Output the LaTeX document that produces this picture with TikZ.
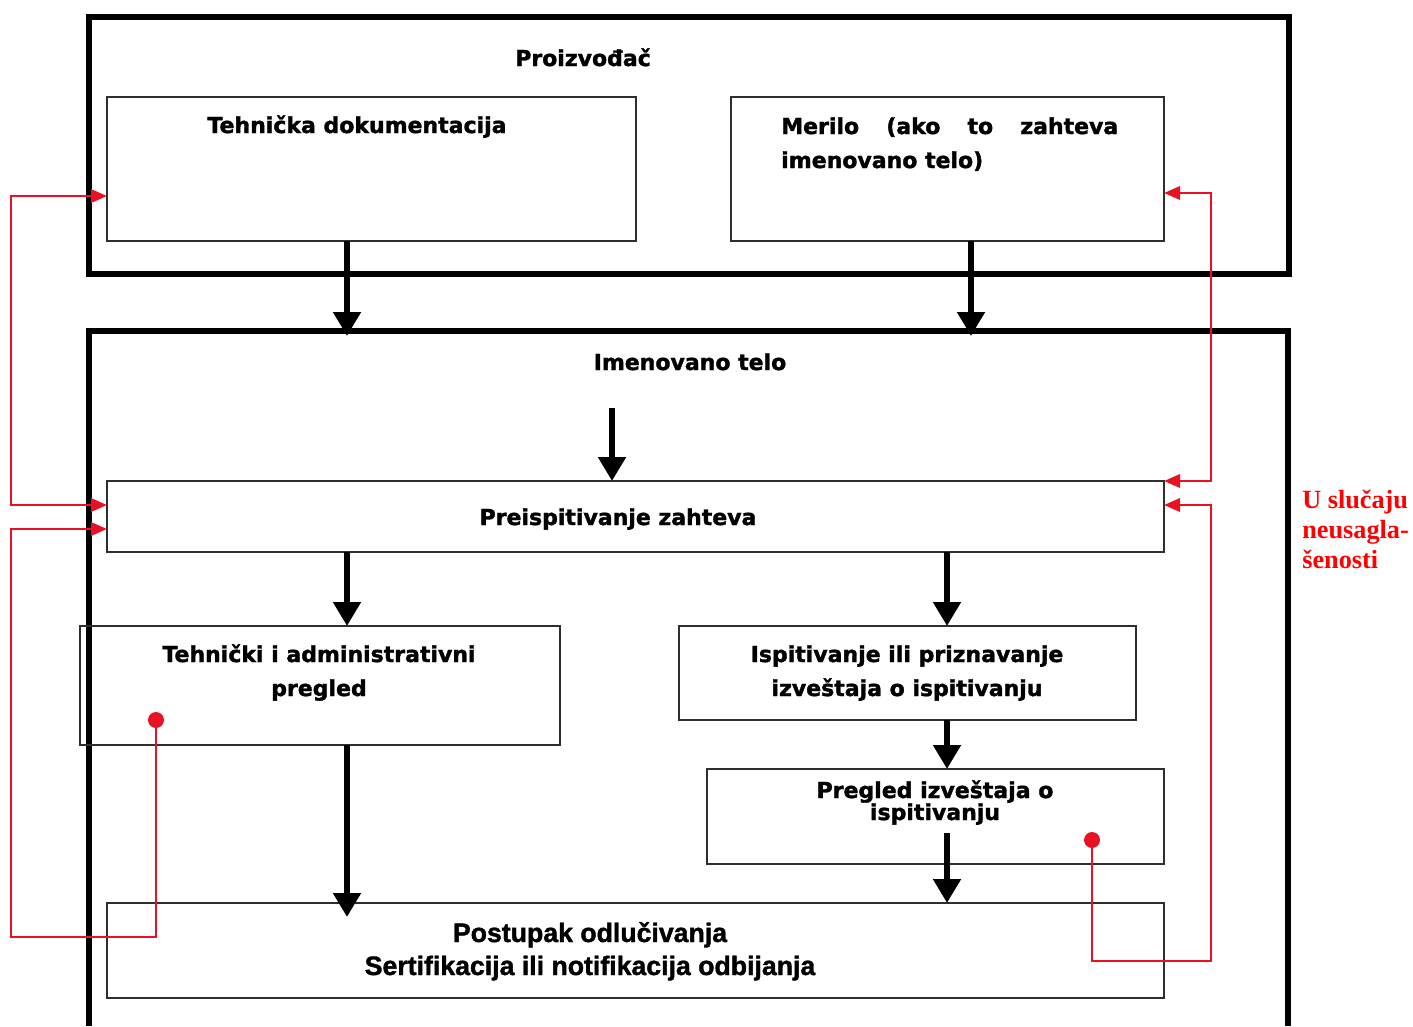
\documentclass[tikz,border=0pt]{standalone}
\usepackage{fontspec}
\setmainfont{DejaVu Sans}
\newfontfamily\hv{DejaVu Sans Bold}[FakeBold=1.6]
\newfontfamily\lsb{Liberation Sans Bold}[FakeBold=1.4]
\newfontfamily\lserif{Liberation Serif}
\usetikzlibrary{arrows.meta,calc}
\definecolor{redc}{RGB}{232,18,36}
\definecolor{redt}{RGB}{255,0,0}
\begin{document}
\begin{tikzpicture}[x=0.75pt,y=-0.75pt,
  frame/.style={draw=black, line width=4.5pt},
  box/.style={draw=black!82, line width=2.1pt, rectangle, inner sep=0pt, outer sep=0pt},
  lbl/.style={font=\hv\fontsize{16.5}{25.5}\selectfont, inner sep=0pt, anchor=base, align=center},
  flow/.style={draw=black, line width=5.2pt, -{Triangle[width=20pt,length=18pt]}},
  fb/.style={draw=redc, line width=1.8pt},
  fbarrow/.style={fb, -{Triangle[width=10pt,length=12pt]}},
  fbboth/.style={fb, {Triangle[width=10pt,length=12pt]}-{Triangle[width=10pt,length=12pt]}},
  rdot/.style={circle, fill=redc, inner sep=0pt, minimum size=12pt}]
\useasboundingbox (0,0) rectangle (1413,1026);
\fill[white] (0,0) rectangle (1413,1026);

% frames
\node[frame, rectangle, inner sep=0pt, outer sep=0pt, minimum width=900pt, minimum height=192.75pt] (prod) at (689,145.5) {};
\draw[frame] (89,1026) |- (1288,331) -- (1288,1026);

% boxes
\node[box, minimum width=396.75pt, minimum height=108pt] (td) at (371.5,169) {};
\node[box, minimum width=324.75pt, minimum height=108pt] (me) at (947.5,169) {};
\node[box, minimum width=792.75pt, minimum height=53.25pt] (pz) at (635.5,516.5) {};
\node[box, minimum width=360pt, minimum height=89.25pt] (ta) at (320,685.5) {};
\node[box, minimum width=342.75pt, minimum height=70.5pt] (is) at (907.5,673) {};
\node[box, minimum width=342.75pt, minimum height=71.25pt] (pr) at (935.5,816.5) {};
\node[box, minimum width=792.75pt, minimum height=71.25pt] (po) at (635.5,950.5) {};

% labels (base anchor = baseline of the last line)
\node[lbl] (tprod) at (583,66) {Proizvođač};
\node[lbl] (ttd) at (357,133) {Tehnička dokumentacija};
\node[lbl, anchor=base west, align=left] (tme) at (781,168) {\makebox[252.75pt][s]{Merilo (ako to zahteva}\\imenovano telo)};
\node[lbl] (timt) at (690,370) {Imenovano telo};
\node[lbl] (tpz) at (618,525) {Preispitivanje zahteva};
\node[lbl] (tta) at (319,696) {Tehnički i administrativni\\pregled};
\node[lbl] (tis) at (907,696) {Ispitivanje ili priznavanje\\izveštaja o ispitivanju};
\node[lbl, font=\hv\fontsize{16.5}{16.5}\selectfont] (tpr) at (935,820) {Pregled izveštaja o\\ispitivanju};
\node[lbl, font=\lsb\fontsize{20}{24.75}\selectfont] (tpo) at (590,975) {Postupak odlučivanja\\Sertifikacija ili notifikacija odbijanja};
\node[lbl, anchor=base west, align=left, text=redt, font=\lserif\fontsize{19.7}{22.5}\selectfont\bfseries] (tred) at (1302,568) {U slučaju\\neusagla-\\šenosti};

% helper coordinates
\coordinate (ib1) at (347,336);
\coordinate (ib2) at (971,336);
\coordinate (it) at (612,408);
\coordinate (xl) at (347,0);
\coordinate (xr) at (947,0);
\coordinate (prs) at (947,833);
\coordinate (pol) at (347,917);

% main flow arrows
\draw[flow] (ib1 |- td.south) -- (ib1);
\draw[flow] (ib2 |- me.south) -- (ib2);
\draw[flow] (it) -- (it |- pz.north);
\draw[flow] (xl |- pz.south) -- (xl |- ta.north);
\draw[flow] (xr |- pz.south) -- (xr |- is.north);
\draw[flow] (xr |- is.south) -- (xr |- pr.north);
\draw[flow] (prs) -- (prs |- po.north);
\draw[flow] (xl |- ta.south) -- (pol);

% feedback (red)
\coordinate (l1) at (11,196);
\coordinate (l2) at (11,505);
\coordinate (l3) at (11,937);
\coordinate (l4) at (11,529);
\coordinate (r1) at (1211,961);
\coordinate (r2) at (1211,505);
\coordinate (r3) at (1211,481);
\coordinate (r4) at (1211,193);
\node[rdot] (d1) at (156,720) {};
\node[rdot] (d2) at (1092,840) {};

\draw[fbboth] (l1 -| td.west) -- (l1) -- (l2) -- (l2 -| pz.west);
\draw[fbarrow] (d1.center) |- (l3) -- (l4) -- (l4 -| pz.west);
\draw[fbarrow] (d2.center) |- (r1) -- (r2) -- (r2 -| pz.east);
\draw[fbboth] (r3 -| pz.east) -- (r3) -- (r4) -- (r4 -| me.east);
\end{tikzpicture}
\end{document}
